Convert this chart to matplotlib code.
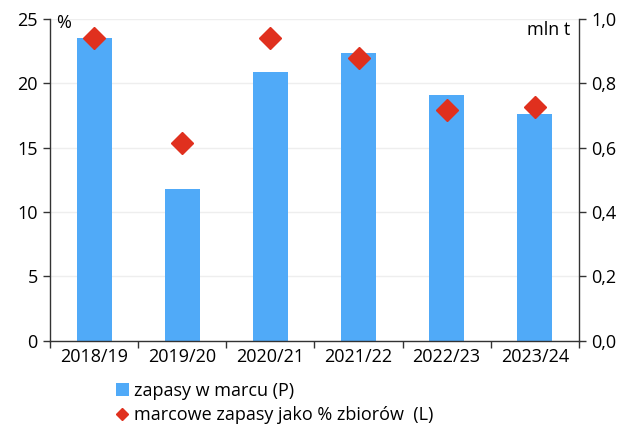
import matplotlib.pyplot as plt
from matplotlib.ticker import FuncFormatter, MultipleLocator
from matplotlib.lines import Line2D
from matplotlib.patches import Patch

seasons = ['2018/19', '2019/20', '2020/21', '2021/22', '2022/23', '2023/24']
stocks_mln_t = [0.94, 0.472, 0.836, 0.894, 0.764, 0.705]  # zapasy w marcu (P)
stocks_pct = [23.5, 15.35, 23.5, 22.0, 17.95, 18.15]      # % zbiorow (L)

bar_color = '#50AAF8'
dot_color = '#E0301E'

plt.rcParams['font.family'] = ['Open Sans', 'DejaVu Sans']
plt.rcParams['font.size'] = 13

fig = plt.figure(figsize=(6.34, 4.26), dpi=100)
ax = fig.add_axes([0.079, 0.200, 0.834, 0.755])
ax2 = ax.twinx()

x = list(range(len(seasons)))

# bars on the right axis, diamonds on the left
ax2.bar(x, stocks_mln_t, width=0.4, color=bar_color, zorder=2)
ax.set_zorder(ax2.get_zorder() + 1)
ax.patch.set_visible(False)
ax.plot(x, stocks_pct, linestyle='none', marker='D', markersize=11,
        color=dot_color, zorder=3)

ax.set_xlim(-0.5, len(seasons) - 0.5)
ax.set_ylim(0, 25)
ax2.set_ylim(0, 1.0)
ax.yaxis.set_major_locator(MultipleLocator(5))
ax2.yaxis.set_major_locator(MultipleLocator(0.2))
ax2.yaxis.set_major_formatter(FuncFormatter(lambda v, p: f'{v:.1f}'.replace('.', ',')))

# light grid behind everything
for v in range(0, 26, 5):
    ax2.axhline(v / 25, color='#EEEEEE', linewidth=1, zorder=0)

ax.set_xticks(x)
ax.set_xticklabels(seasons)
ax.set_xticks([i - 0.5 for i in range(len(seasons) + 1)], minor=True)
ax.tick_params(axis='x', which='major', length=0, pad=5)
ax.tick_params(axis='x', which='minor', length=5, width=1, color='#333333')
ax.tick_params(axis='y', length=5, width=1, color='#333333', pad=4)
ax2.tick_params(axis='y', length=5, width=1, color='#333333', pad=4)

for a in (ax, ax2):
    a.spines['top'].set_visible(False)
    for s in ('left', 'right', 'bottom'):
        a.spines[s].set_color('#333333')
        a.spines[s].set_linewidth(1)
ax.spines['right'].set_visible(False)
ax2.spines['left'].set_visible(False)
ax2.spines['bottom'].set_visible(False)

ax.text(0.012, 1.015, '%', transform=ax.transAxes, ha='left', va='top')
ax2.text(0.983, 0.995, 'mln t', transform=ax2.transAxes, ha='right', va='top')

handles = [
    Patch(facecolor=bar_color, label='zapasy w marcu (P)'),
    Line2D([], [], linestyle='none', marker='D', markersize=6, color=dot_color,
           label='marcowe zapasy jako % zbiorów  (L)'),
]
fig.legend(handles=handles, loc='upper left', bbox_to_anchor=(0.168, 0.125),
           frameon=False, handlelength=0.75, handleheight=0.75, handletextpad=0.3,
           labelspacing=0.35, borderpad=0)

fig.savefig('out.png', dpi=100)
